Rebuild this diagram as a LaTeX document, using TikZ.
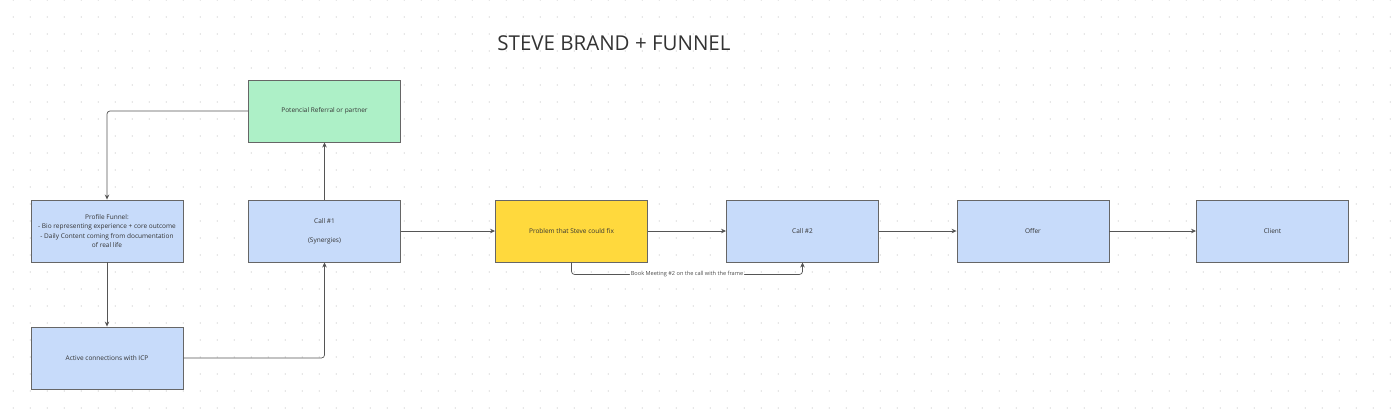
\documentclass[tikz,border=0pt]{standalone}
\usepackage{fontspec}
\setmainfont{Open Sans}
\usetikzlibrary{arrows.meta}
\definecolor{boxblue}{RGB}{199,219,250}
\definecolor{boxgreen}{RGB}{173,240,199}
\definecolor{boxyellow}{RGB}{255,217,61}
\definecolor{linegray}{RGB}{85,85,85}
\tikzset{box/.style={draw=black!60, line width=0.9pt, minimum width=152pt,
    minimum height=62pt, align=center, inner sep=2pt, text=black!80,
    font=\fontsize{6.5}{9.5}\selectfont},
  link/.style={draw=linegray, line width=0.7pt, rounded corners=3pt,
    -{Stealth[length=5pt,width=4.5pt]}},
  griddot/.style={fill=black!22}}

\begin{document}
\begin{tikzpicture}[x=1pt,y=-1pt]
  \useasboundingbox (0,0) rectangle (1391,416);
  % dotted background
  \foreach \i in {0,...,81}
    \foreach \j in {0,...,24}
      \fill[griddot] (13.3+17*\i,17*\j) circle (0.6pt);

  \node[font=\fontsize{20.5}{23}\selectfont, text=black!80] (title) at (614,43) {STEVE BRAND + FUNNEL};

  \node[box, fill=boxblue] (profile) at (107,231) {Profile Funnel:\\- Bio representing experience + core outcome\\- Daily Content coming from documentation\\of real life};
  \node[box, fill=boxblue] (active) at (107,358) {Active connections with ICP};
  \node[box, fill=boxgreen] (referral) at (324.5,111) {Potencial Referral or partner};
  \node[box, fill=boxblue] (call1) at (324.5,231) {Call \#1\\[9.5pt](Synergies)};
  \node[box, fill=boxyellow] (problem) at (571.5,231) {Problem that Steve could fix};
  \node[box, fill=boxblue] (call2) at (802.5,231) {Call \#2};
  \node[box, fill=boxblue] (offer) at (1033,231) {Offer};
  \node[box, fill=boxblue] (client) at (1272.5,231) {Client};

  \draw[link] (referral.west) -| (profile.north);
  \draw[link] (profile) -- (active);
  \draw[link] (active.east) -| (call1.south);
  \draw[link] (call1) -- (referral);
  \draw[link] (call1) -- (problem);
  \draw[link] (problem) -- (call2);
  \draw[link] (call2) -- (offer);
  \draw[link] (offer) -- (client);
  \draw[link] (problem.south) -- ++(0,12) -| node[pos=0.25, fill=white, inner sep=1pt, text=black!70, font=\fontsize{5.6}{6.5}\selectfont] {Book Meeting \#2 on the call with the frame} (call2.south);
\end{tikzpicture}
\end{document}
